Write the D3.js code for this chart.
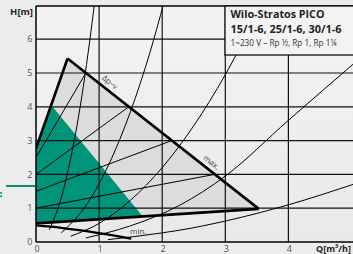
<!DOCTYPE html>
<html>
<head>
<meta charset="utf-8">
<script src="https://cdn.jsdelivr.net/npm/d3@7"></script>
<style>
  html, body { margin: 0; padding: 0; background: #ececec; }
  svg { display: block; font-family: "Open Sans", "Noto Sans", sans-serif; }
</style>
</head>
<body>
<svg id="chart" width="353" height="254"></svg>
<script>
// axis ticks
var xTicks = [0, 1, 2, 3, 4];
var yTicks = [0, 1, 2, 3, 4, 5, 6];

// operating field corners [Q, H]
var greyField = [[0, 0.55], [0, 2.77], [0.5, 5.43], [3.53, 0.98]];
var tealField = [[0, 0.55], [0, 2.77], [0.24, 4.05], [1.69, 0.76]];

// thick curves
var leftLine = [[0, 2.77], [0.5, 5.43]];
var maxLine = [[0.5, 5.43], [3.53, 0.98]];
var bottomLine = [[0, 0.55], [3.53, 0.98]];
var minLine = [[0, 0.49], [0.4, 0.42], [0.8, 0.32], [1.2, 0.2], [1.51, 0.1]];

// thin Δp-v set point lines
var dpvLines = [
    [[0, 2.5], [0.79, 5.0]],
    [[0, 2.0], [1.47, 4.0]],
    [[0, 1.5], [2.15, 3.0]],
    [[0, 1.0], [2.83, 2.0]]
];

// thin system curves
var sysCurves = [
    [[0.21, 0.36], [0.4, 1.3], [0.55, 2.48], [0.65, 3.45], [0.75, 4.6], [0.85, 5.93], [0.93, 7.1]],
    [[0.4, 0.27], [0.8, 1.1], [1.2, 2.48], [1.5, 3.87], [1.8, 5.57], [2.03, 7.1]],
    [[0.55, 0.17], [1.0, 0.55], [1.5, 1.24], [2.0, 2.2], [2.5, 3.44], [3.0, 4.95], [3.57, 7.0]],
    [[0.79, 0.12], [1.5, 0.48], [2.28, 1.09], [3.0, 1.95], [4.0, 3.6], [5.05, 5.3]],
    [[1.14, 0.07], [2.0, 0.27], [2.28, 0.35], [3.0, 0.62], [4.0, 1.1], [5.05, 1.72]]
];

// text
var titleLines = ['Wilo-Stratos PICO', '15/1-6, 25/1-6, 30/1-6', '1~230 V – Rp ½, Rp 1, Rp 1¼'];

var svg = d3.select('#chart');
var plotLeft = 36, plotRight = 353, plotTop = 6, plotBottom = 242;

var x = d3.scaleLinear().domain([0, 5]).range([plotLeft, 351.5]);
var y = d3.scaleLinear().domain([0, 7]).range([plotBottom, 5.4]);

var defs = svg.append('defs');
defs.append('clipPath').attr('id', 'plotClip')
    .append('rect')
    .attr('x', plotLeft).attr('y', plotTop)
    .attr('width', plotRight - plotLeft).attr('height', plotBottom - plotTop);

var grad = defs.append('linearGradient').attr('id', 'bg')
    .attr('x1', 0).attr('y1', 0).attr('x2', 0).attr('y2', 1);
grad.append('stop').attr('offset', '0%').attr('stop-color', '#f3f3f3');
grad.append('stop').attr('offset', '100%').attr('stop-color', '#e9e9e9');

// plot background
svg.append('rect')
    .attr('x', plotLeft).attr('y', plotTop)
    .attr('width', plotRight - plotLeft).attr('height', plotBottom - plotTop)
    .attr('fill', 'url(#bg)');

var line = d3.line().x(d => x(d[0])).y(d => y(d[1]));
var smooth = d3.line().x(d => x(d[0])).y(d => y(d[1])).curve(d3.curveMonotoneX);

var plot = svg.append('g').attr('clip-path', 'url(#plotClip)');

plot.append('path')
    .attr('d', line(greyField) + 'Z')
    .attr('fill', '#dcdcdc');

plot.append('path')
    .attr('d', line(tealField) + 'Z')
    .attr('fill', '#00957a');

// grid
plot.append('g')
    .selectAll('line')
    .data(xTicks.slice(1))
    .join('line')
    .attr('x1', d => x(d)).attr('x2', d => x(d))
    .attr('y1', plotTop).attr('y2', plotBottom)
    .attr('stroke', '#111').attr('stroke-width', 1.2);

plot.append('g')
    .selectAll('line')
    .data(yTicks.slice(1))
    .join('line')
    .attr('x1', plotLeft).attr('x2', plotRight)
    .attr('y1', d => y(d)).attr('y2', d => y(d))
    .attr('stroke', '#111').attr('stroke-width', 1.2);

// thin curves
plot.append('g')
    .selectAll('path')
    .data(sysCurves)
    .join('path')
    .attr('d', smooth)
    .attr('fill', 'none')
    .attr('stroke', '#000')
    .attr('stroke-width', 1);

plot.append('g')
    .selectAll('path')
    .data(dpvLines)
    .join('path')
    .attr('d', line)
    .attr('fill', 'none')
    .attr('stroke', '#000')
    .attr('stroke-width', 1);

// thick curves
[leftLine, maxLine, bottomLine].forEach(function(d) {
    plot.append('path')
        .attr('d', line(d))
        .attr('fill', 'none')
        .attr('stroke', '#000')
        .attr('stroke-width', 2.6)
        .attr('stroke-linejoin', 'round');
});
plot.append('path')
    .attr('d', smooth(minLine))
    .attr('fill', 'none')
    .attr('stroke', '#000')
    .attr('stroke-width', 2.3);

// frame
svg.append('line').attr('x1', plotLeft).attr('x2', plotRight).attr('y1', plotTop).attr('y2', plotTop)
    .attr('stroke', '#000').attr('stroke-width', 1.5);
svg.append('line').attr('x1', plotLeft).attr('x2', plotRight).attr('y1', plotBottom).attr('y2', plotBottom)
    .attr('stroke', '#000').attr('stroke-width', 1.5);
svg.append('line').attr('x1', plotLeft).attr('x2', plotLeft).attr('y1', plotTop).attr('y2', plotBottom)
    .attr('stroke', '#000').attr('stroke-width', 1.5);

// curve labels
var angle = Math.atan2(y(maxLine[1][1]) - y(maxLine[0][1]), x(maxLine[1][0]) - x(maxLine[0][0])) * 180 / Math.PI;
function curveLabel(text, q, h, rot) {
    svg.append('text')
        .attr('transform', 'translate(' + x(q) + ',' + y(h) + ') rotate(' + rot + ')')
        .attr('text-anchor', 'middle')
        .attr('dominant-baseline', 'central')
        .attr('font-size', 8)
        .attr('fill', '#444')
        .text(text);
}
curveLabel('Δp–v', 1.18, 4.75, angle);
curveLabel('max.', 2.79, 2.37, angle);
curveLabel('min.', 1.62, 0.33, 0);

// title box
var box = svg.append('g');
box.append('rect')
    .attr('x', 225).attr('y', plotTop)
    .attr('width', 140).attr('height', 49)
    .attr('fill', '#f3f3f3')
    .attr('stroke', '#000').attr('stroke-width', 1.2);
box.append('text').attr('x', 230.5).attr('y', 18)
    .attr('font-size', 10).attr('font-weight', 'bold').attr('fill', '#222')
    .attr('textLength', 94).attr('lengthAdjust', 'spacingAndGlyphs')
    .text(titleLines[0]);
box.append('text').attr('x', 230.5).attr('y', 33)
    .attr('font-size', 11).attr('font-weight', 'bold').attr('fill', '#222')
    .attr('textLength', 111).attr('lengthAdjust', 'spacingAndGlyphs')
    .text(titleLines[1]);
box.append('text').attr('x', 230.5).attr('y', 45.5)
    .attr('font-size', 8.5).attr('fill', '#333')
    .attr('textLength', 106).attr('lengthAdjust', 'spacingAndGlyphs')
    .text(titleLines[2]);

// tick labels
svg.append('g')
    .selectAll('text')
    .data(yTicks)
    .join('text')
    .attr('x', 32.5)
    .attr('y', d => y(d))
    .attr('dy', '0.35em')
    .attr('text-anchor', 'end')
    .attr('font-size', 9)
    .attr('fill', '#555')
    .text(d => d);

svg.append('g')
    .selectAll('text')
    .data(xTicks)
    .join('text')
    .attr('x', d => x(d) + 1)
    .attr('y', 252)
    .attr('text-anchor', 'middle')
    .attr('font-size', 9)
    .attr('fill', '#555')
    .text(d => d);

// axis titles
svg.append('text')
    .attr('x', 33).attr('y', 15)
    .attr('text-anchor', 'end')
    .attr('font-size', 9.5).attr('font-weight', 'bold').attr('fill', '#222')
    .text('H[m]');
svg.append('text')
    .attr('x', 351).attr('y', 252)
    .attr('text-anchor', 'end')
    .attr('font-size', 9).attr('font-weight', 'bold').attr('fill', '#222')
    .text('Q[m³/h]');

// teal marker at the left margin
svg.append('line')
    .attr('x1', 6).attr('x2', 35).attr('y1', 186).attr('y2', 186)
    .attr('stroke', '#00957a').attr('stroke-width', 2);
svg.append('rect')
    .attr('x', 0).attr('y', 192).attr('width', 2).attr('height', 1.5)
    .attr('fill', '#00957a');
svg.append('rect')
    .attr('x', 0).attr('y', 195.5).attr('width', 2).attr('height', 1.5)
    .attr('fill', '#00957a');
</script>
</body>
</html>
